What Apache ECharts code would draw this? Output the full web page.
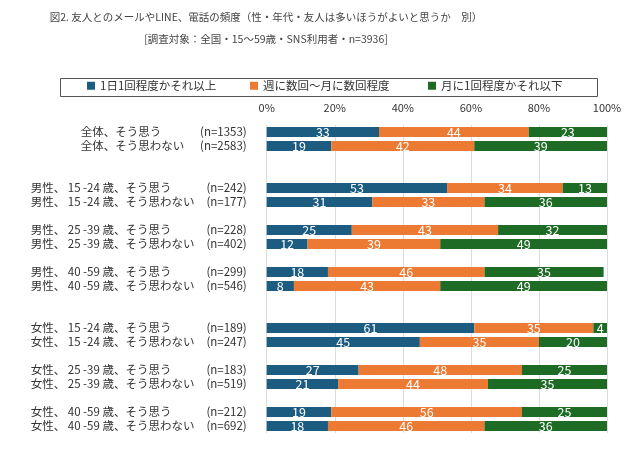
<!DOCTYPE html>
<html>
<head>
<meta charset="utf-8">
<script src="https://cdn.jsdelivr.net/npm/echarts@6/dist/echarts.min.js"></script>
<style>html,body{margin:0;padding:0;background:#fff;}#c{width:640px;height:460px;}</style>
</head>
<body>
<div id="c"></div>
<script>
// ---- data ----
var titleLines = ['図2. 友人とのメールやLINE、電話の頻度（性・年代・友人は多いほうがよいと思うか　別）',
  '[調査対象：全国・15～59歳・SNS利用者・n=3936]'];
var rowNames = ['全体、そう思う','全体、そう思わない','','',
  '男性、 15 -24 歳、そう思う','男性、 15 -24 歳、そう思わない','',
  '男性、 25 -39 歳、そう思う','男性、 25 -39 歳、そう思わない','',
  '男性、 40 -59 歳、そう思う','男性、 40 -59 歳、そう思わない','','',
  '女性、 15 -24 歳、そう思う','女性、 15 -24 歳、そう思わない','',
  '女性、 25 -39 歳、そう思う','女性、 25 -39 歳、そう思わない','',
  '女性、 40 -59 歳、そう思う','女性、 40 -59 歳、そう思わない'];
var rowN = ['1353','2583','','','242','177','','228','402','','299','546','','','189','247','','183','519','','212','692'];
var seriesNames = ['1日1回程度かそれ以上','週に数回～月に数回程度','月に1回程度かそれ以下'];
var daily   = [33,19,'-','-',53,31,'-',25,12,'-',18,8,'-','-',61,45,'-',27,21,'-',19,18];
var weekly  = [44,42,'-','-',34,33,'-',43,39,'-',46,43,'-','-',35,35,'-',48,44,'-',56,46];
var monthly = [23,39,'-','-',13,36,'-',32,49,'-',35,49,'-','-',4,20,'-',25,35,'-',25,36];
var xTicks = [0,20,40,60,80,100];

var colors = ['#1b5c80','#ec7a33','#1e6b26'];
var FONT = 'Noto Sans CJK JP';

var categories = rowNames.map(function(n,i){ return n ? n + '|' + rowN[i] : 'blank' + i; });

var chart = echarts.init(document.getElementById('c'));
function mkSeries(name, data, idx){
  return {
    name: name, type: 'bar', stack: 'total', data: data, barWidth: 10,
    itemStyle: {color: colors[idx]},
    label: {show: true, position: 'inside', color: '#fff', fontSize: 12.5, fontFamily: FONT},
    emphasis: {disabled: true}
  };
}
function mkLegend(i, left){
  return {
    left: left, top: 80, padding: 0, icon: 'rect', itemWidth: 8, itemHeight: 8, itemGap: 5,
    data: [seriesNames[i]],
    textStyle: {fontSize: 11.5, color: '#333', fontFamily: FONT}
  };
}
function mkTitle(t, top){
  return {text: t, left: 266, top: top, padding: 0, textAlign: 'center',
    textStyle: {fontSize: 10.5, fontWeight: 'normal', color: '#444', fontFamily: FONT}};
}
chart.setOption({
  animation: false,
  title: [mkTitle(titleLines[0], 12), mkTitle(titleLines[1], 34)],
  graphic: [{
    type: 'rect', shape: {x: 60.5, y: 78.5, width: 537, height: 18},
    style: {fill: 'none', stroke: '#555', lineWidth: 1}, silent: true
  }],
  legend: [mkLegend(0, 87), mkLegend(1, 250), mkLegend(2, 428)],
  grid: {left: 266.7, right: 33, top: 125, bottom: 27, containLabel: false},
  xAxis: {
    type: 'value', position: 'top', min: 0, max: 100, interval: 20,
    axisLine: {show: false}, axisTick: {show: false},
    axisLabel: {formatter: '{value}%', fontSize: 11, color: '#333', margin: 12, fontFamily: FONT},
    splitLine: {show: true, lineStyle: {color: '#dcdcdc', width: 1}}
  },
  yAxis: {
    type: 'category', inverse: true, data: categories,
    axisLine: {show: false}, axisTick: {show: false},
    axisLabel: {
      margin: 20, interval: 0,
      formatter: function(v){
        if (v.indexOf('blank') === 0) return '';
        var p = v.split('|');
        var style = p[0].indexOf('全体') === 0 ? 'a' : 'b';
        return '{' + style + '|' + p[0] + '}{n|(n=' + p[1] + ')}';
      },
      rich: {
        a: {width: 114, align: 'left', fontSize: 11.5, color: '#333', fontFamily: FONT},
        b: {width: 164, align: 'left', fontSize: 11.5, color: '#333', fontFamily: FONT},
        n: {width: 52, align: 'right', fontSize: 11.5, color: '#333', fontFamily: FONT}
      }
    }
  },
  series: [mkSeries(seriesNames[0], daily, 0), mkSeries(seriesNames[1], weekly, 1), mkSeries(seriesNames[2], monthly, 2)]
});
</script>
</body>
</html>
